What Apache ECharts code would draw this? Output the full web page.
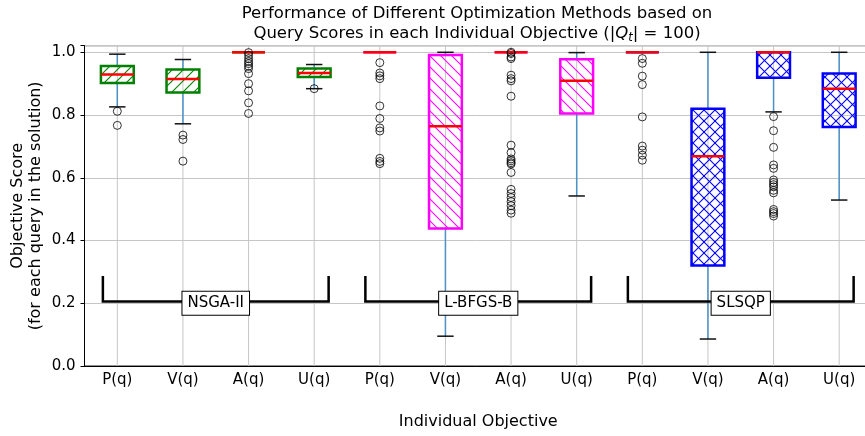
<!DOCTYPE html>
<html><head><meta charset="utf-8">
<script src="https://cdn.jsdelivr.net/npm/echarts@6/dist/echarts.min.js"></script>
<style>html,body{margin:0;padding:0;background:#fff}#c{width:865px;height:436px}</style>
</head><body><div id="c"></div>
<script>
// ---------------- data ----------------
const categories = ['P(q)','V(q)','A(q)','U(q)','P(q)','V(q)','A(q)','U(q)','P(q)','V(q)','A(q)','U(q)'];
const methods = ['NSGA-II','L-BFGS-B','SLSQP'];
const yTicks = [0.0, 0.2, 0.4, 0.6, 0.8, 1.0];

// box stats per objective: [lowWhisker, q1, median, q3, highWhisker]
const nsga2Stats = [
  [0.826, 0.902, 0.929, 0.956, 0.994],
  [0.772, 0.872, 0.915, 0.945, 0.977],
  [1.000, 1.000, 1.000, 1.000, 1.000],
  [0.884, 0.921, 0.934, 0.948, 0.961]
];
const lbfgsbStats = [
  [1.000, 1.000, 1.000, 1.000, 1.000],
  [0.095, 0.438, 0.764, 0.991, 1.000],
  [1.000, 1.000, 1.000, 1.000, 1.000],
  [0.542, 0.805, 0.909, 0.978, 0.999]
];
const slsqpStats = [
  [1.000, 1.000, 1.000, 1.000, 1.000],
  [0.086, 0.320, 0.669, 0.820, 1.000],
  [0.810, 0.919, 1.000, 1.000, 1.000],
  [0.529, 0.762, 0.884, 0.932, 1.000]
];

// outliers (fliers) per objective
const nsga2Outliers = [
  [0.812, 0.767],
  [0.736, 0.722, 0.653],
  [0.999, 0.990, 0.980, 0.971, 0.964, 0.956, 0.948, 0.932, 0.900, 0.877, 0.839, 0.805],
  [0.884]
];
const lbfgsbOutliers = [
  [0.967, 0.934, 0.925, 0.916, 0.829, 0.789, 0.759, 0.749, 0.662, 0.652, 0.645],
  [],
  [1.000, 0.996, 0.985, 0.980, 0.927, 0.916, 0.909, 0.860, 0.704, 0.680, 0.660, 0.654, 0.648, 0.644, 0.617, 0.563, 0.550, 0.537, 0.524, 0.511, 0.497, 0.487],
  []
];
const slsqpOutliers = [
  [0.980, 0.965, 0.924, 0.897, 0.794, 0.701, 0.688, 0.672, 0.656],
  [],
  [0.795, 0.750, 0.697, 0.641, 0.630, 0.593, 0.585, 0.578, 0.571, 0.560, 0.552, 0.499, 0.492, 0.486, 0.478],
  []
];

// ---------------- styling ----------------
const groupColors = ['#008000', '#ff00ff', '#0000ff'];
const hatchKinds = ['/', '\\', 'x'];
const FONT = '"DejaVu Sans", sans-serif';

function makeHatch(color, kind, S, lw) {
  const c = document.createElement('canvas');
  c.width = S; c.height = S;
  const g = c.getContext('2d');
  g.strokeStyle = color; g.lineWidth = lw;
  const seg = (a,b,c2,d) => { g.beginPath(); g.moveTo(a,b); g.lineTo(c2,d); g.stroke(); };
  if (kind === '/' || kind === 'x') {
    seg(0, S, S, 0); seg(-3, 3, 3, -3); seg(S-3, S+3, S+3, S-3);
  }
  if (kind === '\\' || kind === 'x') {
    seg(0, 0, S, S); seg(S-3, -3, S+3, 3); seg(-3, S-3, 3, S+3);
  }
  return c;
}
const patterns = groupColors.map((col, i) => ({ image: makeHatch(col, hatchKinds[i], 11, 1.1), repeat: 'repeat' }));

// ---------------- build series data ----------------
const allStats = [nsga2Stats, lbfgsbStats, slsqpStats];
const allOutliers = [nsga2Outliers, lbfgsbOutliers, slsqpOutliers];
const boxData = [];
const flierData = [];
allStats.forEach((stats, g) => stats.forEach((s, j) => boxData.push([g * 4 + j].concat(s))));
allOutliers.forEach((outs, g) => outs.forEach((arr, j) => arr.forEach(v => flierData.push([g * 4 + j, v]))));

const bracketOffsets = [-0.22, 3.22];
const bracketLevels = [0.206, 0.287];
const labelLevel = 0.2;

function renderBox(params, api) {
  const idx = api.value(0);
  const low = api.value(1), q1 = api.value(2), med = api.value(3), q3 = api.value(4), high = api.value(5);
  const g = Math.floor(idx / 4);
  const bw = api.size([1, 0])[0];
  const cx = api.coord([idx, 0])[0];
  const y = v => api.coord([idx, v])[1];
  const hb = bw * 0.25, hc = bw * 0.125;
  const wStyle = { stroke: '#4b92c8', lineWidth: 1.5 };
  const cStyle = { stroke: '#111', lineWidth: 1.5 };
  return {
    type: 'group',
    children: [
      { type: 'line', shape: { x1: cx, y1: y(q3), x2: cx, y2: y(high) }, style: wStyle },
      { type: 'line', shape: { x1: cx, y1: y(q1), x2: cx, y2: y(low) }, style: wStyle },
      { type: 'line', shape: { x1: cx - hc, y1: y(high), x2: cx + hc, y2: y(high) }, style: cStyle },
      { type: 'line', shape: { x1: cx - hc, y1: y(low), x2: cx + hc, y2: y(low) }, style: cStyle },
      { type: 'rect', shape: { x: cx - hb, y: y(q3), width: 2 * hb, height: y(q1) - y(q3) },
        style: { fill: patterns[g], stroke: groupColors[g], lineWidth: 2.5 } },
      { type: 'line', shape: { x1: cx - hb, y1: y(med), x2: cx + hb, y2: y(med) }, style: { stroke: '#ff0000', lineWidth: 2.5 } }
    ]
  };
}

function renderGridX(params, api) {
  const i = api.value(0);
  const p = api.coord([i, 0]);
  return { type: 'line', shape: { x1: p[0], y1: p[1], x2: p[0], y2: params.coordSys.y }, style: { stroke: '#c6c6c6', lineWidth: 1 } };
}

function renderBracket(params, api) {
  const start = api.value(0);           // first category index of the group
  const g = params.dataIndex;
  const bw = api.size([1, 0])[0];
  const c0 = api.coord([start, 0])[0];
  const x0 = c0 + bracketOffsets[0] * bw;
  const x1 = c0 + bracketOffsets[1] * bw;
  const yb = api.coord([start, bracketLevels[0]])[1];
  const yt = api.coord([start, bracketLevels[1]])[1];
  const yl = api.coord([start, labelLevel])[1];
  return {
    type: 'group',
    children: [
      { type: 'polyline', shape: { points: [[x0, yt], [x0, yb], [x1, yb], [x1, yt]] }, style: { stroke: '#000', lineWidth: 2.5, fill: null } },
      { type: 'text', x: (x0 + x1) / 2, y: yl,
        style: { text: methods[g], fill: '#000', font: '15px ' + FONT, align: 'center', verticalAlign: 'middle',
                 backgroundColor: '#fff', borderColor: '#000', borderWidth: 1, padding: [4, 5, 4, 5] } }
    ]
  };
}

const chart = echarts.init(document.getElementById('c'));
chart.setOption({
  animation: false,
  textStyle: { fontFamily: FONT },
  title: {
    text: 'Performance of Different Optimization Methods based on\nQuery Scores in each Individual Objective (|{i|Q}{s|t}| = 100)',
    left: 477, top: 4, textAlign: 'center', padding: 0,
    textStyle: { fontSize: 16.5, fontWeight: 'normal', color: '#000', fontFamily: FONT, lineHeight: 20,
      rich: {
        i: { fontStyle: 'italic', fontSize: 16.5, fontFamily: FONT, color: '#000', lineHeight: 20 },
        s: { fontStyle: 'italic', fontSize: 11.5, fontFamily: FONT, color: '#000', lineHeight: 10, verticalAlign: 'bottom' }
      } }
  },
  grid: { left: 84.5, right: -7, top: 45.7, bottom: 70, outerBoundsMode: 'none', containLabel: false,
          show: true, borderColor: '#222', borderWidth: 1, backgroundColor: 'transparent' },
  xAxis: {
    type: 'category', data: categories, boundaryGap: true,
    axisLine: { lineStyle: { color: '#000', width: 1 } },
    axisTick: { alignWithLabel: true, interval: 0, length: 4, lineStyle: { color: '#000' } },
    axisLabel: { interval: 0, color: '#000', fontSize: 15, fontFamily: FONT, margin: 7 },
    splitLine: { show: false },
    name: 'Individual Objective', nameLocation: 'middle', nameGap: 48, nameMoveOverlap: false,
    nameTextStyle: { fontSize: 16, color: '#000', fontFamily: FONT }
  },
  yAxis: {
    type: 'value', min: 0, max: 1.021, interval: 0.2,
    axisLine: { show: true, lineStyle: { color: '#000', width: 1 } },
    axisTick: { show: true, length: 4, lineStyle: { color: '#000' } },
    axisLabel: { color: '#000', fontSize: 15, fontFamily: FONT, margin: 9,
      formatter: v => yTicks.some(t => Math.abs(t - v) < 1e-6) ? v.toFixed(1) : '' },
    splitLine: { lineStyle: { color: '#c6c6c6', width: 1 } },
    name: 'Objective Score\n(for each query in the solution)', nameLocation: 'middle', nameGap: 40, nameRotate: 90,
    nameMoveOverlap: false,
    nameTextStyle: { fontSize: 16, color: '#000', fontFamily: FONT, lineHeight: 18 }
  },
  series: [
    { type: 'custom', z: 1, silent: true, renderItem: renderGridX, data: categories.map((c, i) => [i]), encode: { x: 0 } },
    { type: 'custom', z: 3, silent: true, renderItem: renderBox, data: boxData, encode: { x: 0, y: [1, 2, 3, 4, 5] } },
    { type: 'scatter', z: 4, silent: true, data: flierData, symbol: 'circle', symbolSize: 8,
      itemStyle: { color: 'rgba(0,0,0,0)', borderColor: '#000', borderWidth: 1 } },
    { type: 'custom', z: 5, silent: true, renderItem: renderBracket, data: methods.map((m, g) => [4 * g, 0]), encode: { x: 0, y: 1 } }
  ]
});
</script>
</body></html>
